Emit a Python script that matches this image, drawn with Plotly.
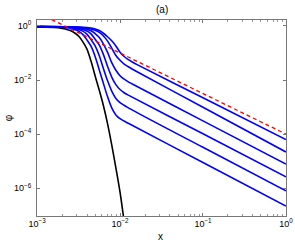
import plotly.graph_objects as go

# log10(x) and log10(phi)
black_lx = [-3, -2.9, -2.8, -2.7, -2.65, -2.6, -2.55, -2.5, -2.45, -2.4, -2.35, -2.3, -2.25, -2.2, -2.15, -2.1, -2.05, -2.0, -1.95]
black_ly = [-0.05, -0.05, -0.06, -0.09, -0.12, -0.17, -0.25, -0.37, -0.58, -0.85, -1.3, -1.85, -2.38, -2.95, -3.62, -4.4, -5.25, -6.15, -7.25]

blue1_lx = [-3, -2.6, -2.5, -2.4, -2.35, -2.3, -2.25, -2.2, -2.15, -2.1, -2.05, -2.0, -1.95, -1.9, -1.85, -1.8, -1.0, 0]
blue1_ly = [-0.02, -0.03, -0.04, -0.06, -0.08, -0.11, -0.17, -0.27, -0.40, -0.55, -0.74, -0.97, -1.13, -1.245, -1.335, -1.42, -2.655, -4.20]

blue2_lx = [-3, -2.6, -2.5, -2.4, -2.35, -2.3, -2.25, -2.2, -2.15, -2.1, -2.05, -2.0, -1.95, -1.9, -1.8, -1.0, 0]
blue2_ly = [-0.02, -0.03, -0.05, -0.08, -0.11, -0.16, -0.24, -0.37, -0.56, -0.82, -1.09, -1.27, -1.41, -1.51, -1.685, -3.01, -4.66]

blue3_lx = [-3, -2.7, -2.6, -2.5, -2.45, -2.4, -2.35, -2.3, -2.25, -2.2, -2.15, -2.1, -2.05, -2.0, -1.95, -1.9, -1.8, -1.0, 0]
blue3_ly = [-0.02, -0.03, -0.04, -0.06, -0.09, -0.12, -0.18, -0.28, -0.43, -0.67, -0.98, -1.36, -1.64, -1.84, -1.97, -2.07, -2.23, -3.51, -5.11]

blue4_lx = [-3, -2.8, -2.7, -2.6, -2.5, -2.45, -2.4, -2.35, -2.3, -2.25, -2.2, -2.15, -2.1, -2.05, -2.0, -1.95, -1.9, -1.0, 0]
blue4_ly = [-0.02, -0.02, -0.03, -0.05, -0.09, -0.13, -0.19, -0.29, -0.49, -0.71, -1.06, -1.50, -1.89, -2.17, -2.35, -2.47, -2.56, -3.99, -5.58]

blue5_lx = [-3, -2.8, -2.7, -2.6, -2.55, -2.5, -2.45, -2.4, -2.35, -2.3, -2.25, -2.2, -2.15, -2.1, -2.05, -2.0, -1.9, -1.0, 0]
blue5_ly = [-0.02, -0.03, -0.04, -0.06, -0.09, -0.13, -0.19, -0.30, -0.50, -0.74, -1.10, -1.58, -2.03, -2.41, -2.68, -2.84, -3.03, -4.49, -6.10]

blue6_lx = [-3, -2.8, -2.7, -2.6, -2.55, -2.5, -2.45, -2.4, -2.35, -2.3, -2.25, -2.2, -2.15, -2.1, -2.05, -2.0, -1.9, -1.0, 0]
blue6_ly = [-0.02, -0.03, -0.05, -0.08, -0.13, -0.19, -0.31, -0.51, -0.75, -1.13, -1.63, -2.13, -2.62, -3.03, -3.29, -3.43, -3.60, -5.05, -6.66]

red_x = [0.0015, 1.0]
red_y = [1.72, 1e-4]

x_tickvals = [1e-3, 1e-2, 1e-1, 1]
x_ticktext = ["10<sup>−3</sup>", "10<sup>−2</sup>", "10<sup>−1</sup>", "10<sup>0</sup>"]
y_tickvals = [1e-6, 1e-4, 1e-2, 1]
y_ticktext = ["10<sup>−6</sup>", "10<sup>−4</sup>", "10<sup>−2</sup>", "10<sup>0</sup>"]

title_text = "(a)"
x_label = "x"
y_label = "φ"

def tolin(v):
    return [10 ** a for a in v]

fig = go.Figure()
fig.add_trace(go.Scatter(x=tolin(black_lx), y=tolin(black_ly), mode="lines",
                         line=dict(color="#000000", width=1.6, shape="spline", smoothing=0.8),
                         showlegend=False))
for lx, ly in [(blue1_lx, blue1_ly), (blue2_lx, blue2_ly), (blue3_lx, blue3_ly),
               (blue4_lx, blue4_ly), (blue5_lx, blue5_ly), (blue6_lx, blue6_ly)]:
    fig.add_trace(go.Scatter(x=tolin(lx), y=tolin(ly), mode="lines",
                             line=dict(color="#0000ff", width=1.6, shape="spline", smoothing=0.8),
                             showlegend=False))
fig.add_trace(go.Scatter(x=red_x, y=red_y, mode="lines",
                         line=dict(color="#ff0000", width=1.3, dash="4px,3px"),
                         showlegend=False))

font_family = "Liberation Sans, Arial"
axis_common = dict(
    type="log", showgrid=False, zeroline=False, showline=True, linecolor="#777777",
    linewidth=1, mirror="ticks", ticks="inside", ticklen=3, tickcolor="#777777",
    tickfont=dict(family=font_family, size=9, color="#000000"), automargin=False,
)

fig.update_xaxes(**axis_common, range=[-3.001, 0.001], tickmode="array",
                 tickvals=x_tickvals, ticktext=x_ticktext, ticklabelstandoff=-1,
                 minor=dict(ticks="inside", ticklen=2, tickcolor="#999999", dtick="D1"))
fig.update_yaxes(**axis_common, range=[-7.03, 0.22], tickmode="array",
                 tickvals=y_tickvals, ticktext=y_ticktext, ticklabelstandoff=3)

fig.update_layout(
    width=295, height=243,
    margin=dict(l=37, r=9, t=20, b=27),
    paper_bgcolor="white", plot_bgcolor="white",
    annotations=[
        dict(text=title_text, xref="paper", yref="paper", x=0.5, y=1.0546,
             xanchor="center", yanchor="middle", showarrow=False,
             font=dict(family=font_family, size=10, color="#000000")),
        dict(text=x_label, xref="paper", yref="paper", x=0.495, y=-0.105,
             xanchor="center", yanchor="middle", showarrow=False,
             font=dict(family=font_family, size=10, color="#000000")),
        dict(text=y_label, xref="paper", yref="paper", x=-0.115, y=0.5,
             xanchor="center", yanchor="middle", showarrow=False, textangle=-90,
             font=dict(family=font_family, size=10, color="#000000")),
    ],
)

fig.write_html("out.html", config={"displayModeBar": False},
               post_script="document.body.style.margin='0px';")
